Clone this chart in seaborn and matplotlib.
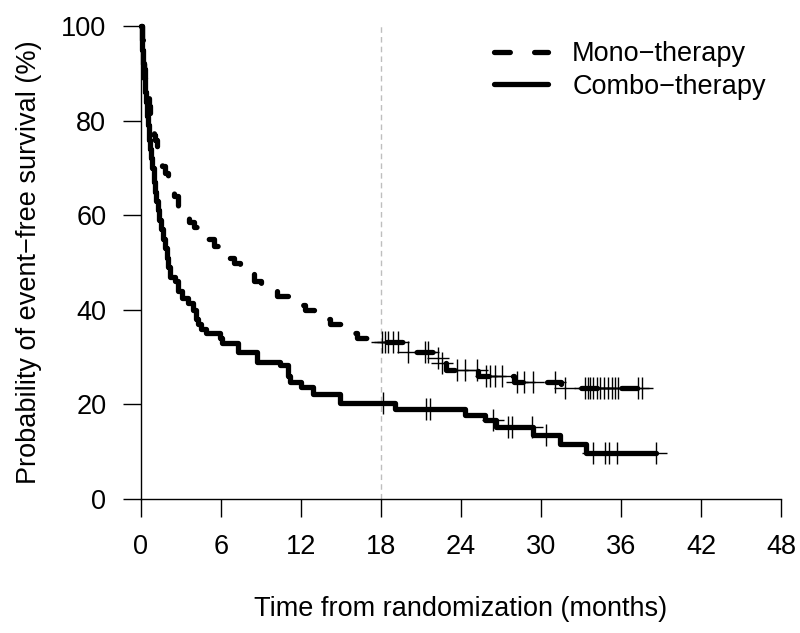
import numpy as np
import pandas as pd
import seaborn as sns
import matplotlib.pyplot as plt
from matplotlib.lines import Line2D

# -----------------------------------------------------------------------------
# Data
# -----------------------------------------------------------------------------

# Mono-therapy: event times (months) and survival (%) after each step
mono_event_time = [0.1, 0.15, 0.2, 0.3, 0.4, 0.5, 0.6, 0.7, 0.8, 0.95, 1.05, 1.2,
                   1.4, 1.6, 1.8, 2.0, 2.2, 2.5, 2.8, 3.0, 3.3, 3.6, 4.0, 4.5,
                   5.0, 5.5, 6.2, 6.6, 7.0, 7.4, 7.8, 8.5, 9.0, 9.6, 10.2, 11.0,
                   11.6, 12.3, 13.0, 13.6, 14.2, 15.0, 15.6, 16.2, 17.0, 19.9,
                   22.0, 22.4, 22.9, 25.3, 28.0, 31.5]
mono_event_surv = [97, 94, 91, 89, 87, 85, 83, 81, 79, 77, 76, 74.5,
                   72.5, 70.5, 69, 67.5, 66, 64, 62, 61, 60, 58.5, 57.5, 56.5,
                   55, 53.5, 52.5, 51, 50, 49, 47.5, 46, 45, 44, 43, 42,
                   41, 40, 39, 38, 37, 36, 35, 34, 33.2, 31.1,
                   29.8, 28.8, 27.3, 25.9, 24.8, 23.4]
mono_censor = [18.05, 18.3, 18.55, 18.9, 19.3, 20.05, 21.3, 21.55, 22.3, 22.55,
               23.7, 24.3, 25.2, 25.9, 26.2, 26.55, 27.05, 28.2, 28.7, 29.4,
               31.05, 31.8, 33.3, 33.55, 33.7, 33.9, 34.2, 34.4, 34.7, 35.05,
               35.3, 35.55, 35.8, 37.3, 37.55]

# Combo-therapy
combo_event_time = [0.05, 0.1, 0.15, 0.2, 0.3, 0.35, 0.45, 0.5, 0.6, 0.65, 0.75,
                    0.85, 0.95, 1.05, 1.15, 1.25, 1.35, 1.5, 1.65, 1.8, 1.95,
                    2.05, 2.2, 2.55, 2.8, 3.1, 3.5, 3.9, 4.1, 4.3, 4.5, 4.9,
                    5.9, 6.1, 7.3, 8.7, 10.4, 11.0, 11.2, 12.0, 12.9, 14.9,
                    19.05, 24.3, 25.8, 26.6, 29.4, 31.4, 33.4]
combo_event_surv = [98, 95, 92, 89, 86, 84, 81, 79, 76, 74, 72,
                    70, 67, 65, 63, 61, 59, 57, 55, 53, 51,
                    49, 47, 46, 44, 42.5, 41.5, 40, 38, 37, 36, 35,
                    34, 33, 31, 29, 28.3, 26, 24.8, 23.7, 22.3, 20.2,
                    19, 17.7, 16.7, 15.2, 13.5, 11.6, 9.7]
combo_censor = [18.15, 21.4, 21.7, 26.4, 27.5, 27.8, 29.3, 30.4, 33.9, 34.8,
                35.1, 35.7, 38.6]

# -----------------------------------------------------------------------------
# Plotting attributes
# -----------------------------------------------------------------------------

sns.set_theme(style="ticks")
plt.rcParams["font.family"] = ["Liberation Sans", "DejaVu Sans"]
fs = 19.5
lw = 3.8
dash = (0, (3.0, 4.6))
mark_size = 260


def km_table(event_time, event_surv, censor):
    # Step curve from 0 to last follow-up, censor marks at curve height
    t = [0.0] + list(event_time) + [max(censor)]
    s = [100.0] + list(event_surv) + [event_surv[-1]]
    curve = pd.DataFrame({"time": t, "surv": s})
    idx = np.searchsorted(np.array(event_time), np.array(censor), side="right")
    marks_s = np.array([100.0] + list(event_surv))[idx]
    marks = pd.DataFrame({"time": censor, "surv": marks_s})
    return curve, marks


mono_curve, mono_marks = km_table(mono_event_time, mono_event_surv, mono_censor)
combo_curve, combo_marks = km_table(combo_event_time, combo_event_surv, combo_censor)

fig = plt.figure(figsize=(8, 6.33), dpi=100)
ax = fig.add_axes([141 / 800, 1 - 499 / 633, 640 / 800, 473 / 633])

# Reference line at 18 months
ax.axvline(18, color="#bebebe", lw=1, ls=(0, (4, 3)), zorder=1)

sns.lineplot(data=mono_curve, x="time", y="surv", drawstyle="steps-post",
             estimator=None, color="black", lw=lw, linestyle=dash,
             dash_capstyle="round", dash_joinstyle="round", ax=ax, clip_on=False)
sns.lineplot(data=combo_curve, x="time", y="surv", drawstyle="steps-post",
             estimator=None, color="black", lw=lw, solid_joinstyle="round",
             ax=ax, clip_on=False)

sns.scatterplot(data=mono_marks, x="time", y="surv", marker="+", s=mark_size,
                color="black", linewidth=1, ax=ax, zorder=4)
sns.scatterplot(data=combo_marks, x="time", y="surv", marker="+", s=mark_size,
                color="black", linewidth=1, ax=ax, zorder=4)

ax.set_xlim(0, 48)
ax.set_ylim(0, 100)
ax.set_xticks(np.arange(0, 49, 6))
ax.set_yticks(np.arange(0, 101, 20))
ax.tick_params(axis="both", labelsize=fs, length=13, width=1, color="black",
               labelcolor="black")
ax.tick_params(axis="x", pad=12)
ax.tick_params(axis="y", pad=12)
sns.despine(ax=ax)
for sp in ["left", "bottom"]:
    ax.spines[sp].set_color("black")
    ax.spines[sp].set_linewidth(1)

ax.set_xlabel("Time from randomization (months)", fontsize=fs, color="black")
ax.set_ylabel("Probability of event\u2212free survival (%)", fontsize=fs,
              color="black")
ax.xaxis.set_label_coords(0.5, -0.205)
ax.yaxis.set_label_coords(-0.155, 0.5)

handles = [Line2D([], [], color="black", lw=lw, linestyle=dash,
                  dash_capstyle="round"),
           Line2D([], [], color="black", lw=lw)]
ax.legend(handles, ["Mono\u2212therapy", "Combo\u2212therapy"], frameon=False,
          fontsize=fs, loc="upper left", bbox_to_anchor=(0.617, 0.935),
          bbox_transform=fig.transFigure, borderpad=0, borderaxespad=0,
          handlelength=2.0, handletextpad=0.9, labelspacing=0.25,
          labelcolor="black")

plt.savefig("out.png", dpi=100)
